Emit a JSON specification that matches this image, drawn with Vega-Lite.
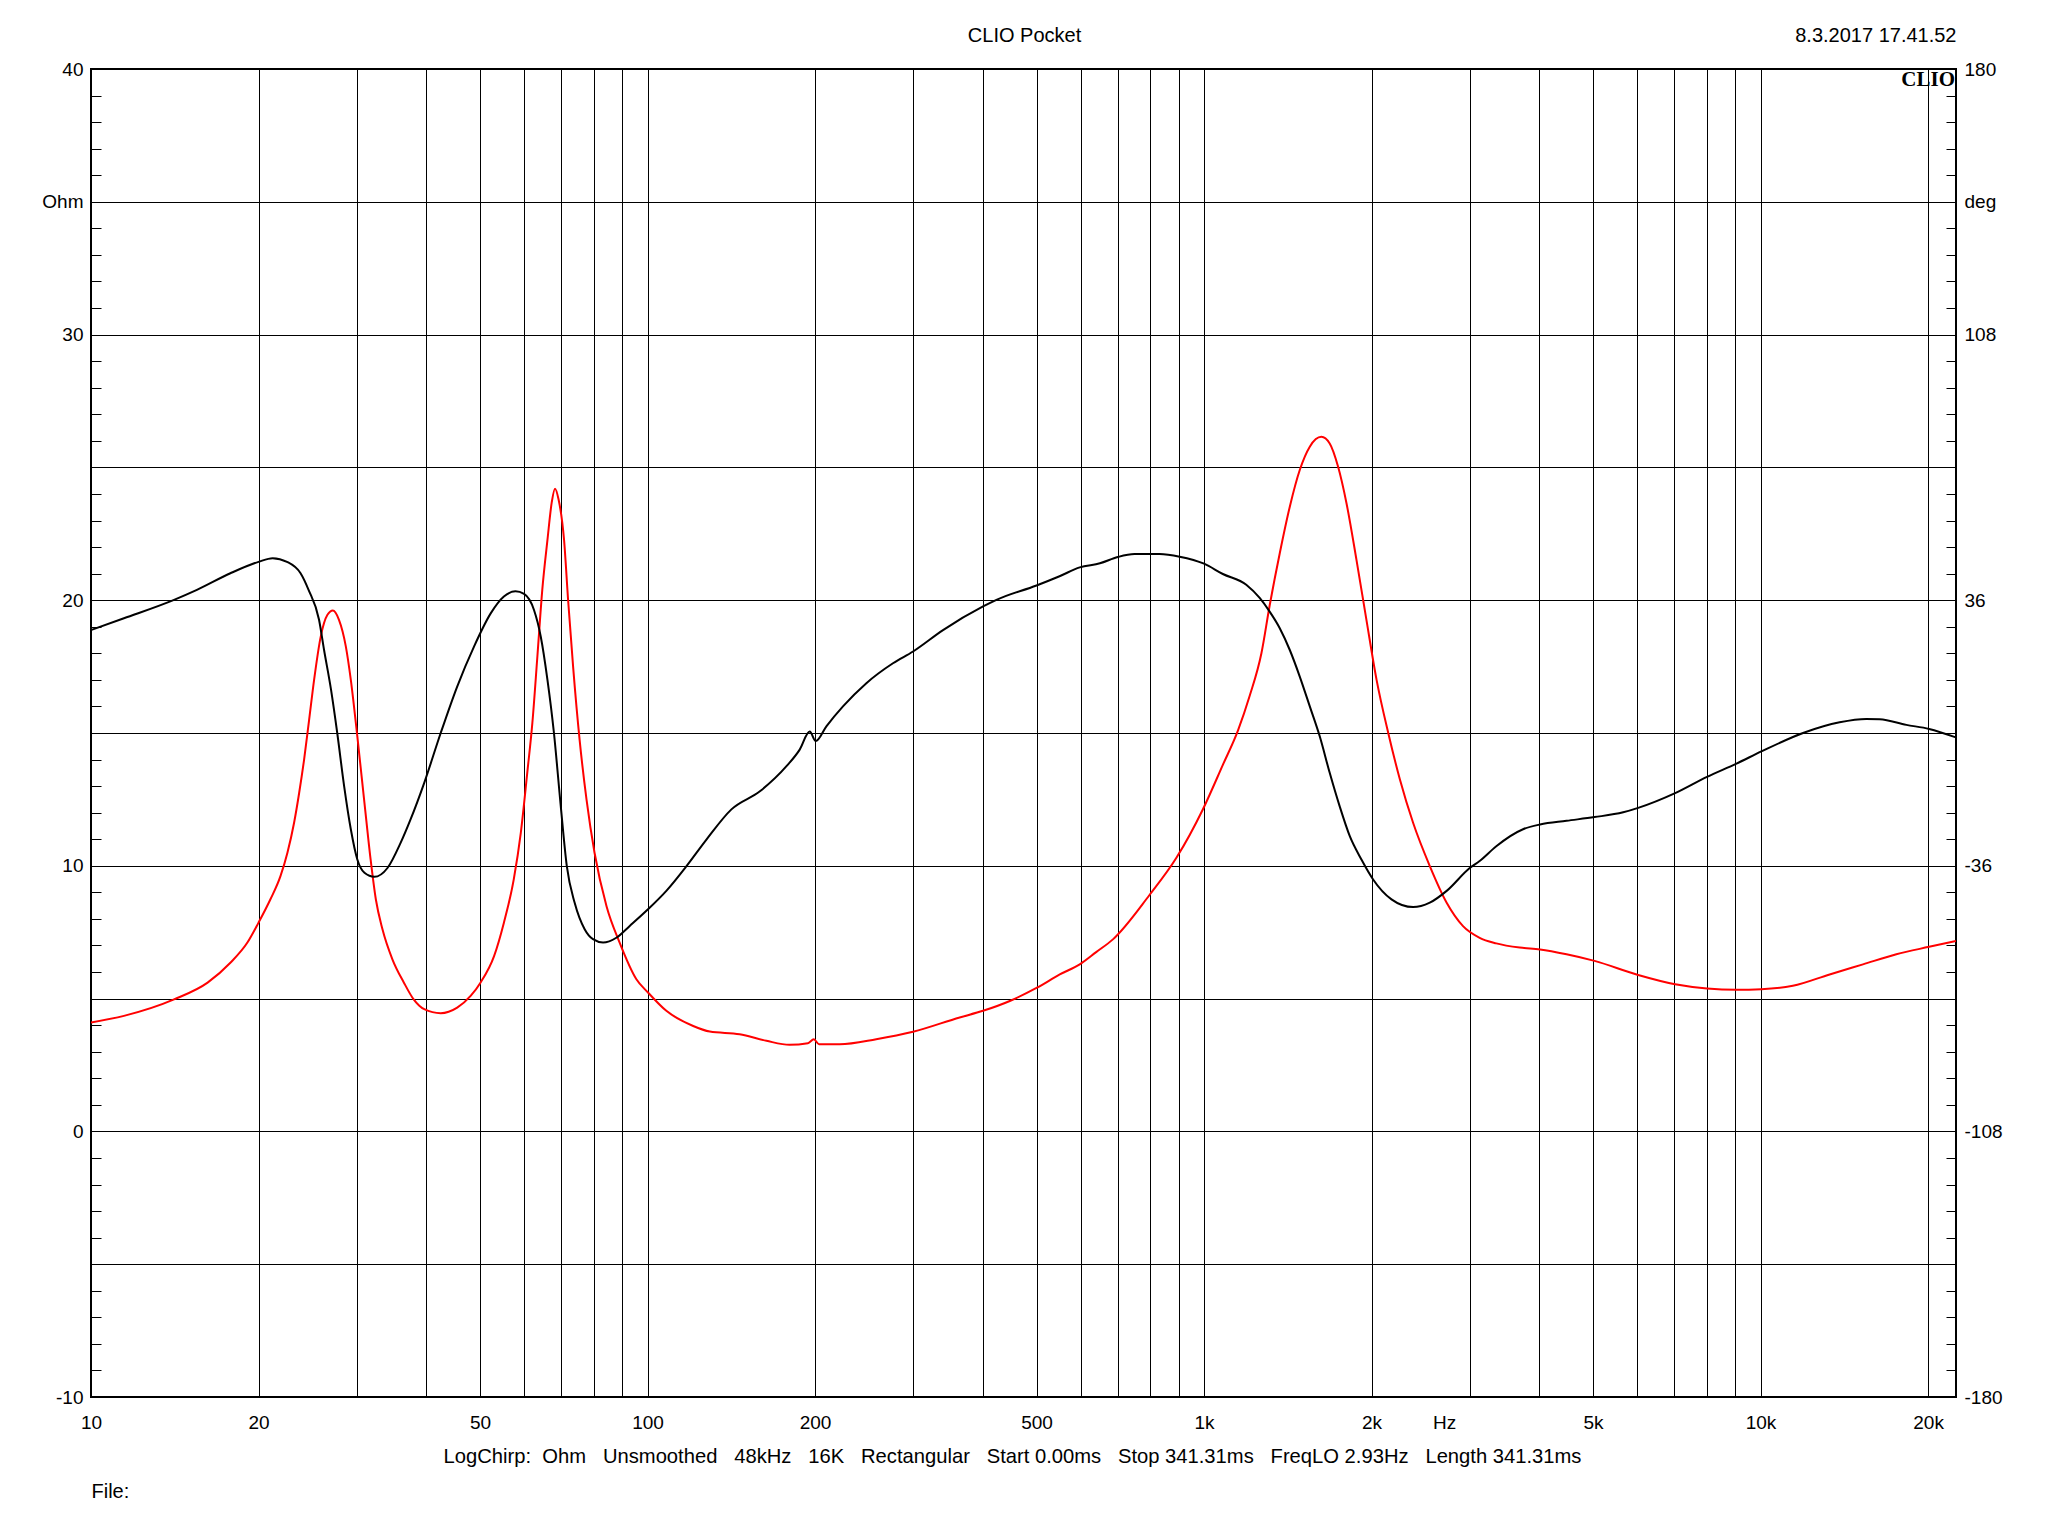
{
  "$schema": "https://vega.github.io/schema/vega-lite/v6.json",
  "width": 1865,
  "height": 1328,
  "autosize": {"type": "none"},
  "padding": {"left": 91, "top": 69, "right": 92, "bottom": 139},
  "background": "white",
  "config": {
    "font": "Liberation Sans",
    "view": {"stroke": "#000000", "strokeWidth": 2},
    "axis": {"labelFont": "Liberation Sans", "titleFont": "Liberation Sans", "labelColor": "#000000", "titleColor": "#000000"}
  },
  "datasets": {
    "imp": [
      {"f": 10, "z": 4.10}, {"f": 11.46, "z": 4.35}, {"f": 14.1, "z": 4.97}, {"f": 16.2, "z": 5.60},
      {"f": 17.8, "z": 6.35}, {"f": 19.1, "z": 7.11}, {"f": 20.0, "z": 7.86}, {"f": 21.0, "z": 8.73},
      {"f": 21.9, "z": 9.61}, {"f": 22.54, "z": 10.49}, {"f": 23.17, "z": 11.62}, {"f": 23.66, "z": 12.74},
      {"f": 24.15, "z": 14.0}, {"f": 24.66, "z": 15.5}, {"f": 25.17, "z": 17.0}, {"f": 25.87, "z": 18.63},
      {"f": 26.6, "z": 19.45}, {"f": 27.2, "z": 19.61}, {"f": 27.9, "z": 19.26}, {"f": 28.7, "z": 18.26},
      {"f": 29.3, "z": 17.0}, {"f": 30.1, "z": 14.87}, {"f": 31.0, "z": 12.37}, {"f": 31.8, "z": 10.24},
      {"f": 32.5, "z": 8.73}, {"f": 33.4, "z": 7.61}, {"f": 34.8, "z": 6.48}, {"f": 36.5, "z": 5.60},
      {"f": 38.0, "z": 4.97}, {"f": 39.7, "z": 4.60}, {"f": 42.5, "z": 4.45}, {"f": 45.5, "z": 4.66},
      {"f": 48.1, "z": 5.10}, {"f": 50.1, "z": 5.60}, {"f": 53.0, "z": 6.60}, {"f": 55.2, "z": 7.86},
      {"f": 57.5, "z": 9.49}, {"f": 59.2, "z": 11.24}, {"f": 60.8, "z": 13.50}, {"f": 62.1, "z": 15.38},
      {"f": 63.4, "z": 17.88}, {"f": 64.7, "z": 20.39}, {"f": 66.1, "z": 22.27}, {"f": 67.3, "z": 23.7},
      {"f": 68.2, "z": 24.2}, {"f": 69.2, "z": 23.8}, {"f": 70.8, "z": 22.27}, {"f": 72.0, "z": 20.0},
      {"f": 73.5, "z": 17.5}, {"f": 75.5, "z": 14.75}, {"f": 77.7, "z": 12.49}, {"f": 80.3, "z": 10.5},
      {"f": 84.4, "z": 8.48}, {"f": 89.1, "z": 7.11}, {"f": 95.5, "z": 5.73}, {"f": 100.2, "z": 5.23},
      {"f": 108.1, "z": 4.54}, {"f": 120.8, "z": 3.97}, {"f": 129.4, "z": 3.76}, {"f": 146.4, "z": 3.66},
      {"f": 163.6, "z": 3.41}, {"f": 180, "z": 3.26}, {"f": 194.2, "z": 3.32}, {"f": 199, "z": 3.47},
      {"f": 203.3, "z": 3.28}, {"f": 221.5, "z": 3.28}, {"f": 257.6, "z": 3.47}, {"f": 300, "z": 3.75},
      {"f": 363.8, "z": 4.29}, {"f": 400.8, "z": 4.54}, {"f": 447.7, "z": 4.91}, {"f": 501, "z": 5.41},
      {"f": 550.6, "z": 5.91}, {"f": 598, "z": 6.29}, {"f": 640, "z": 6.75}, {"f": 686, "z": 7.23},
      {"f": 798, "z": 8.9}, {"f": 892, "z": 10.3}, {"f": 995, "z": 12.12}, {"f": 1081, "z": 13.8},
      {"f": 1151, "z": 15.1}, {"f": 1208, "z": 16.4}, {"f": 1268, "z": 18.0}, {"f": 1312, "z": 19.8},
      {"f": 1368, "z": 21.77}, {"f": 1426, "z": 23.52}, {"f": 1486, "z": 24.9}, {"f": 1549, "z": 25.78},
      {"f": 1625, "z": 26.15}, {"f": 1682, "z": 25.9}, {"f": 1741, "z": 25.03}, {"f": 1803, "z": 23.65},
      {"f": 1879, "z": 21.52}, {"f": 1958, "z": 19.26}, {"f": 2042, "z": 17.0}, {"f": 2143, "z": 15.0},
      {"f": 2249, "z": 13.25}, {"f": 2375, "z": 11.62}, {"f": 2545, "z": 9.99}, {"f": 2729, "z": 8.61},
      {"f": 2920, "z": 7.73}, {"f": 3128, "z": 7.29}, {"f": 3351, "z": 7.08}, {"f": 3692, "z": 6.92},
      {"f": 4016, "z": 6.85}, {"f": 4481, "z": 6.67}, {"f": 5031, "z": 6.42}, {"f": 6027, "z": 5.89},
      {"f": 7023, "z": 5.54}, {"f": 8013, "z": 5.38}, {"f": 9052, "z": 5.33}, {"f": 10036, "z": 5.35},
      {"f": 11430, "z": 5.48}, {"f": 13310, "z": 5.91}, {"f": 15280, "z": 6.29}, {"f": 17540, "z": 6.67},
      {"f": 20090, "z": 6.95}, {"f": 22440, "z": 7.17}
    ],
    "ph": [
      {"f": 10, "p": 27.9}, {"f": 11.46, "p": 31.1}, {"f": 14.1, "p": 36.1}, {"f": 15.5, "p": 38.8},
      {"f": 17.8, "p": 43.3}, {"f": 20.0, "p": 46.4}, {"f": 21.2, "p": 47.4}, {"f": 22.5, "p": 46.4},
      {"f": 23.8, "p": 43.3}, {"f": 24.6, "p": 38.8}, {"f": 25.69, "p": 30.7}, {"f": 26.23, "p": 22.5},
      {"f": 27.0, "p": 11.7}, {"f": 27.7, "p": 0}, {"f": 28.5, "p": -14.4}, {"f": 29.3, "p": -26.1},
      {"f": 30.1, "p": -34.3}, {"f": 31.0, "p": -37.9}, {"f": 32.3, "p": -39.0}, {"f": 34.1, "p": -36.6},
      {"f": 36.0, "p": -29.8}, {"f": 37.5, "p": -23.5}, {"f": 39.7, "p": -13.5}, {"f": 42.5, "p": 0},
      {"f": 45.5, "p": 12.6}, {"f": 48.8, "p": 23.5}, {"f": 52.3, "p": 32.5}, {"f": 55.2, "p": 37.0},
      {"f": 57.9, "p": 38.4}, {"f": 60.0, "p": 37.7}, {"f": 62.5, "p": 33.4}, {"f": 64.3, "p": 26.1},
      {"f": 66.1, "p": 14.4}, {"f": 67.9, "p": 0}, {"f": 69.8, "p": -19.4}, {"f": 71.6, "p": -36.0},
      {"f": 74.0, "p": -46.1}, {"f": 77.1, "p": -53.2}, {"f": 79.8, "p": -55.9}, {"f": 83.2, "p": -56.8},
      {"f": 87.9, "p": -55.5}, {"f": 92.9, "p": -52.3}, {"f": 100.2, "p": -47.8}, {"f": 108.1, "p": -42.8},
      {"f": 117.5, "p": -36.1}, {"f": 127.6, "p": -28.9}, {"f": 141.5, "p": -20.7}, {"f": 159.2, "p": -15.8},
      {"f": 177.7, "p": -9.0}, {"f": 187.7, "p": -4.5}, {"f": 195.6, "p": 0.4}, {"f": 200.6, "p": -2.2},
      {"f": 209.6, "p": 1.8}, {"f": 224.5, "p": 7.2}, {"f": 247.3, "p": 13.5}, {"f": 276.1, "p": 18.9},
      {"f": 300, "p": 22.1}, {"f": 339.6, "p": 27.9}, {"f": 400.8, "p": 34.3}, {"f": 423.6, "p": 36.1},
      {"f": 500, "p": 40.0}, {"f": 550, "p": 42.5}, {"f": 598, "p": 44.9}, {"f": 650, "p": 46.0},
      {"f": 700, "p": 47.7}, {"f": 750, "p": 48.5}, {"f": 832, "p": 48.5}, {"f": 904, "p": 47.8},
      {"f": 1000, "p": 45.9}, {"f": 1081, "p": 43.1}, {"f": 1191, "p": 40.2}, {"f": 1259, "p": 36.6},
      {"f": 1312, "p": 32.9}, {"f": 1368, "p": 28.4}, {"f": 1426, "p": 22.5}, {"f": 1486, "p": 15.3},
      {"f": 1549, "p": 7.2}, {"f": 1614, "p": -0.9}, {"f": 1682, "p": -10.8}, {"f": 1753, "p": -19.9},
      {"f": 1827, "p": -27.9}, {"f": 1918, "p": -34.3}, {"f": 2013, "p": -39.7}, {"f": 2172, "p": -45.1},
      {"f": 2375, "p": -47.2}, {"f": 2545, "p": -46.0}, {"f": 2729, "p": -42.8}, {"f": 3002, "p": -36.6},
      {"f": 3128, "p": -34.7}, {"f": 3351, "p": -30.7}, {"f": 3743, "p": -26.1}, {"f": 4016, "p": -24.8},
      {"f": 4481, "p": -23.8}, {"f": 5031, "p": -22.8}, {"f": 5665, "p": -21.5}, {"f": 6027, "p": -20.3},
      {"f": 7023, "p": -16.3}, {"f": 8013, "p": -11.9}, {"f": 9052, "p": -8.3}, {"f": 10036, "p": -5.0},
      {"f": 11922, "p": 0}, {"f": 13870, "p": 2.9}, {"f": 15490, "p": 3.8}, {"f": 16370, "p": 3.7},
      {"f": 18280, "p": 2.2}, {"f": 20090, "p": 1.1}, {"f": 22440, "p": -1.2}
    ]
  },
  "resolve": {"scale": {"y": "independent"}, "axis": {"x": "independent", "y": "independent"}},
  "layer": [
    {
      "data": {"name": "imp"},
      "mark": {"type": "line", "color": "#ff0000", "strokeWidth": 2, "interpolate": "monotone", "clip": true},
      "encoding": {
        "x": {
          "field": "f", "type": "quantitative",
          "scale": {"type": "log", "domain": [10, 22450], "nice": false},
          "axis": {
            "orient": "bottom",
            "values": [10, 20, 30, 40, 50, 60, 70, 80, 90, 100, 200, 300, 400, 500, 600, 700, 800, 900, 1000, 2000, 2700, 3000, 4000, 5000, 6000, 7000, 8000, 9000, 10000, 20000],
            "grid": true, "gridColor": "#000000", "gridWidth": 1,
            "gridOpacity": {"condition": {"test": "datum.value === 2700", "value": 0}, "value": 1},
            "ticks": false, "domain": false,
            "labelExpr": "datum.value == 2700 ? 'Hz' : (indexof([10,20,50,100,200,500], datum.value) >= 0 ? '' + datum.value : (indexof([1000,2000,5000,10000,20000], datum.value) >= 0 ? (datum.value / 1000) + 'k' : ''))",
            "labelFontSize": 19, "labelPadding": 16, "labelOverlap": false, "labelFlush": false, "labelBound": false,
            "title": "LogChirp:\u00a0\u00a0Ohm\u00a0\u00a0\u00a0Unsmoothed\u00a0\u00a0\u00a048kHz\u00a0\u00a0\u00a016K\u00a0\u00a0\u00a0Rectangular\u00a0\u00a0\u00a0Start 0.00ms\u00a0\u00a0\u00a0Stop 341.31ms\u00a0\u00a0\u00a0FreqLO 2.93Hz\u00a0\u00a0\u00a0Length 341.31ms",
            "titleX": 921, "titleY": 65, "titleAlign": "center", "titleBaseline": "alphabetic",
            "titleFontSize": 20.2, "titleFontWeight": "normal"
          }
        },
        "y": {
          "field": "z", "type": "quantitative",
          "scale": {"domain": [-10, 40], "nice": false, "zero": false},
          "axis": {
            "orient": "left",
            "values": [-10, -9, -8, -7, -6, -5, -4, -3, -2, -1, 0, 1, 2, 3, 4, 5, 6, 7, 8, 9, 10, 11, 12, 13, 14, 15, 16, 17, 18, 19, 20, 21, 22, 23, 24, 25, 26, 27, 28, 29, 30, 31, 32, 33, 34, 35, 36, 37, 38, 39, 40],
            "grid": true, "gridColor": "#000000", "gridWidth": 1,
            "gridOpacity": {"condition": {"test": "datum.value % 5 === 0", "value": 1}, "value": 0},
            "ticks": true, "tickSize": -10, "tickColor": "#000000", "tickWidth": 1,
            "domain": false,
            "labelExpr": "datum.value == 35 ? 'Ohm' : (datum.value % 10 === 0 ? '' + datum.value : '')",
            "labelFontSize": 19, "labelPadding": 18, "labelOverlap": false, "labelFlush": false, "labelBound": false,
            "title": "File:", "titleAngle": 0, "titleX": 0, "titleY": 1428, "titleAlign": "left", "titleBaseline": "alphabetic",
            "titleFontSize": 20, "titleFontWeight": "normal"
          }
        }
      }
    },
    {
      "data": {"name": "ph"},
      "mark": {"type": "line", "color": "#000000", "strokeWidth": 2, "interpolate": "monotone", "clip": true},
      "encoding": {
        "x": {
          "field": "f", "type": "quantitative",
          "axis": {
            "orient": "top", "grid": false, "ticks": false, "labels": false, "domain": false,
            "title": "CLIO Pocket", "titleX": 933, "titleY": -27.6, "titleAlign": "center", "titleBaseline": "alphabetic",
            "titleFontSize": 20, "titleFontWeight": "normal"
          }
        },
        "y": {
          "field": "p", "type": "quantitative",
          "scale": {"domain": [-180, 180], "nice": false, "zero": false},
          "axis": {
            "orient": "right",
            "values": [-180, -172.8, -165.6, -158.4, -151.2, -144, -136.8, -129.6, -122.4, -115.2, -108, -100.8, -93.6, -86.4, -79.2, -72, -64.8, -57.6, -50.4, -43.2, -36, -28.8, -21.6, -14.4, -7.2, 0, 7.2, 14.4, 21.6, 28.8, 36, 43.2, 50.4, 57.6, 64.8, 72, 79.2, 86.4, 93.6, 100.8, 108, 115.2, 122.4, 129.6, 136.8, 144, 151.2, 158.4, 165.6, 172.8, 180],
            "grid": false,
            "ticks": true, "tickSize": -10, "tickColor": "#000000", "tickWidth": 1,
            "domain": false,
            "labelExpr": "datum.value == 144 ? 'deg' : (indexof([180, 108, 36, -36, -108, -180], datum.value) >= 0 ? '' + datum.value : '')",
            "labelFontSize": 19, "labelPadding": 18, "labelOverlap": false, "labelFlush": false, "labelBound": false,
            "title": "8.3.2017 17.41.52", "titleAngle": 0, "titleX": 0, "titleY": -27.6, "titleAlign": "right", "titleBaseline": "alphabetic",
            "titleFontSize": 20, "titleFontWeight": "normal"
          }
        }
      }
    },
    {
      "data": {"values": [{"label": "CLIO"}]},
      "mark": {"type": "text", "font": "Liberation Serif", "fontWeight": "bold", "fontSize": 21, "align": "right", "baseline": "alphabetic", "dx": -1, "dy": 17, "color": "#000000"},
      "encoding": {
        "text": {"field": "label"},
        "x": {"datum": 22450, "type": "quantitative", "axis": null},
        "y": {"datum": 40, "type": "quantitative", "scale": {"domain": [-10, 40], "nice": false, "zero": false}, "axis": null}
      }
    }
  ]
}
